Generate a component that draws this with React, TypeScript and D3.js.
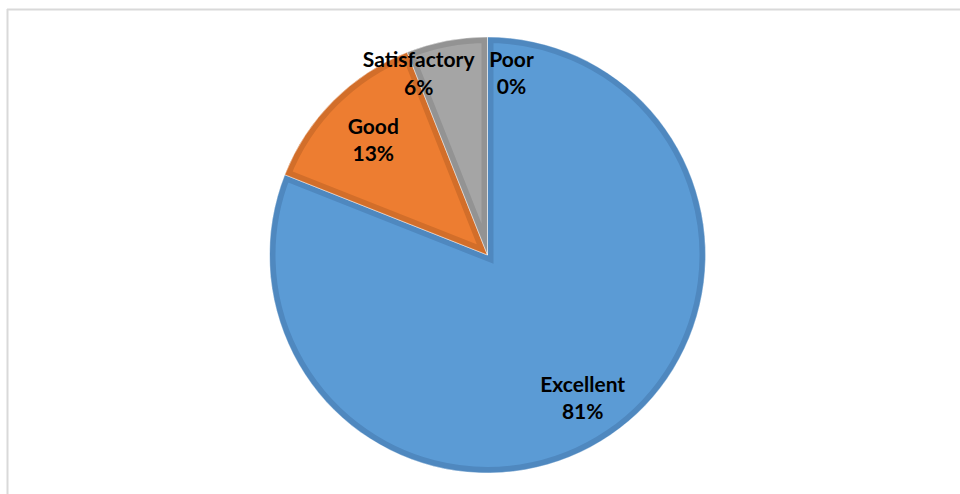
import React from "react";
import * as d3 from "d3";

const categories = ["Excellent", "Good", "Satisfactory", "Poor"];
const values = [81, 13, 6, 0];
const pctLabels = ["81%", "13%", "6%", "0%"];

const fills = ["#5B9BD5", "#ED7D31", "#A5A5A5", "#FFC000"];
const edges = ["#4F88BF", "#D26E2A", "#939393", "#E0A800"];

// label placement: radius from centre and angle shift (radians) per slice
const labelPlace = [
  { r: 172.5, shift: 0.012 },
  { r: 161.6, shift: 0 },
  { r: 193.6, shift: -0.175 },
  { r: 183, shift: 0.1316 },
];

const W = 960;
const H = 494;

const App = () => {
  const svgRef = React.useRef(null);

  React.useEffect(() => {
    const svg = d3.select(svgRef.current);
    svg.selectAll("*").remove();

    const cx = 487.5, cy = 255, radius = 218;

    // chart frame (top + left only visible)
    svg.append("line").attr("x1", 7).attr("x2", W).attr("y1", 9.5).attr("y2", 9.5)
      .attr("stroke", "#d9d9d9").attr("stroke-width", 2);
    svg.append("line").attr("x1", 7.5).attr("x2", 7.5).attr("y1", 9).attr("y2", H)
      .attr("stroke", "#d9d9d9").attr("stroke-width", 2);

    const pie = d3.pie().value((d) => d).sort(null);
    const arcs = pie(values);
    const arc = d3.arc().innerRadius(0).outerRadius(radius);

    const g = svg.append("g").attr("transform", `translate(${cx},${cy})`);
    const defs = svg.append("defs");

    arcs.forEach((a, i) => {
      if (a.endAngle - a.startAngle <= 0) return;
      defs.append("clipPath").attr("id", "clip" + i).append("path").attr("d", arc(a));
      g.append("path")
        .attr("d", arc(a))
        .attr("fill", fills[i])
        .attr("stroke", edges[i])
        .attr("stroke-width", 12)
        .attr("stroke-linejoin", "miter")
        .attr("clip-path", `url(#clip${i})`);
      g.append("path")
        .attr("d", arc(a))
        .attr("fill", "none")
        .attr("stroke", "#ffffff")
        .attr("stroke-opacity", 0.6)
        .attr("stroke-width", 0.8);
    });

    arcs.forEach((a, i) => {
      const p = labelPlace[i];
      const mid = (a.startAngle + a.endAngle) / 2 + p.shift;
      const x = Math.sin(mid) * p.r;
      const y = -Math.cos(mid) * p.r;
      const t = g.append("text")
        .attr("text-anchor", "middle")
        .attr("font-family", "Lato, 'Open Sans', sans-serif")
        .attr("font-weight", "bold")
        .attr("font-size", 21)
        .attr("fill", "#000");
      t.append("tspan").attr("x", x).attr("y", y - 7).text(categories[i]);
      t.append("tspan").attr("x", x).attr("y", y + 20.5).text(pctLabels[i]);
    });
  }, []);

  return (
    <svg
      ref={svgRef}
      width={W}
      height={H}
      style={{ position: "fixed", left: 0, top: 0, background: "#fff" }}
    />
  );
};

export default App;
